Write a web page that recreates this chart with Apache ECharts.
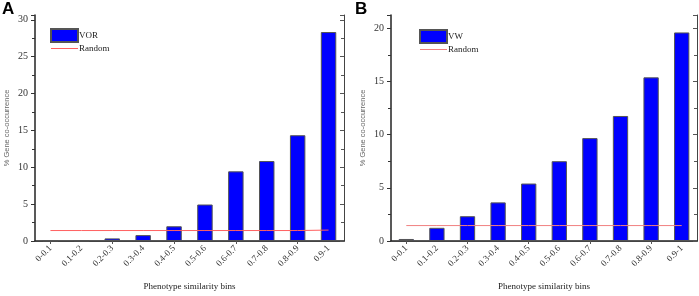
<!DOCTYPE html>
<html><head><meta charset="utf-8">
<script src="https://cdn.jsdelivr.net/npm/echarts@6/dist/echarts.min.js"></script>
<style>html,body{margin:0;padding:0;background:#fff}#c{width:699px;height:296px}</style>
</head><body><div id="c"></div>
<script>
const categories = ['0-0.1','0.1-0.2','0.2-0.3','0.3-0.4','0.4-0.5','0.5-0.6','0.6-0.7','0.7-0.8','0.8-0.9','0.9-1'];
const vorValues = [0.05, 0.05, 0.35, 0.8, 2.0, 4.95, 9.45, 10.85, 14.35, 28.35];
const vorRandom = [1.42, 1.42, 1.42, 1.42, 1.42, 1.42, 1.42, 1.42, 1.42, 1.48];
const vwValues = [0.19, 1.24, 2.33, 3.63, 5.4, 7.5, 9.67, 11.75, 15.38, 19.6];
const vwRandom = [1.45, 1.45, 1.45, 1.45, 1.45, 1.45, 1.45, 1.45, 1.45, 1.45];
const yTicksA = [0, 5, 10, 15, 20, 25, 30];
const yTicksB = [0, 5, 10, 15, 20];
const xTitle = 'Phenotype similarity bins';
const yTitle = '% Gene co-occurrence';

const serif = 'Liberation Serif';
const chart = echarts.init(document.getElementById('c'));
const lineIcon = 'path://M0,0L27,0L27,1L0,1Z';

function xAxes(gi) {
  return [{
    type: 'category', gridIndex: gi, data: categories, position: 'bottom',
    axisLine: {lineStyle: {color: '#222', width: 1.5}},
    axisTick: {show: false},
    axisLabel: {rotate: 45, fontFamily: serif, fontSize: 9, color: '#333', margin: 6, interval: 0},
    name: xTitle, nameLocation: 'middle', nameGap: 41,
    nameTextStyle: {fontFamily: serif, fontSize: 9, color: '#222'}
  }, {
    type: 'category', gridIndex: gi, data: categories, position: 'top',
    axisLine: {lineStyle: {color: '#444', width: 1}},
    axisTick: {show: true, inside: true, alignWithLabel: true, length: 3, lineStyle: {color: '#555'}},
    axisLabel: {show: false}
  }];
}
function yAxes(gi, max, ticks) {
  return [{
    type: 'value', gridIndex: gi, min: 0, max: max, interval: 5, position: 'left',
    axisLine: {show: true, lineStyle: {color: '#222', width: 1.5}},
    axisTick: {show: true, length: 4, lineStyle: {color: '#333'}},
    minorTick: {show: true, splitNumber: 2, length: 3, lineStyle: {color: '#333'}},
    splitLine: {show: false},
    axisLabel: {fontFamily: serif, fontSize: 10, color: '#333', margin: 7,
      formatter: v => ticks.includes(v) ? String(v) : ''},
    name: yTitle, nameLocation: 'middle', nameGap: 24, nameRotate: 90,
    nameTextStyle: {fontFamily: 'Liberation Sans', fontSize: 7.5, color: '#666'}
  }, {
    type: 'value', gridIndex: gi, min: 0, max: max, interval: 5, position: 'right',
    axisLine: {show: true, lineStyle: {color: '#444', width: 1}},
    axisTick: {show: true, inside: true, length: 4, lineStyle: {color: '#555'}},
    minorTick: {show: true, splitNumber: 2, length: 3, lineStyle: {color: '#555'}},
    splitLine: {show: false},
    axisLabel: {show: false}
  }];
}

const option = {
  animation: false,
  backgroundColor: '#fff',
  grid: [
    {left: 35, right: 355, top: 15, bottom: 52},
    {left: 391, right: 2, top: 15, bottom: 53}
  ],
  xAxis: [...xAxes(0), ...xAxes(1)],
  yAxis: [...yAxes(0, 30.66, yTicksA), ...yAxes(1, 21.24, yTicksB)],
  legend: [{
    orient: 'vertical', left: 50, top: 28, padding: 0, itemWidth: 27, itemHeight: 13, itemGap: 1,
    textStyle: {fontFamily: serif, fontSize: 9, color: '#222', padding: [0,0,0,-4]},
    data: [{name: 'VOR', icon: 'rect'}, {name: 'Random A', icon: lineIcon}],
    formatter: n => n.replace(/ [AB]$/, '')
  }, {
    orient: 'vertical', left: 419, top: 29, padding: 0, itemWidth: 27, itemHeight: 13, itemGap: 1,
    textStyle: {fontFamily: serif, fontSize: 9, color: '#222', padding: [0,0,0,-4]},
    data: [{name: 'VW', icon: 'rect'}, {name: 'Random B', icon: lineIcon}],
    formatter: n => n.replace(/ [AB]$/, '')
  }],
  series: [
    {name: 'VOR', type: 'bar', xAxisIndex: 0, yAxisIndex: 0, data: vorValues, barWidth: '50%',
     itemStyle: {color: '#0000ff', borderColor: '#555', borderWidth: 1}},
    {name: 'Random A', type: 'line', xAxisIndex: 0, yAxisIndex: 0, data: vorRandom, symbol: 'none',
     lineStyle: {color: '#ff6060', width: 1}, itemStyle: {color: '#ff6060'}},
    {name: 'VW', type: 'bar', xAxisIndex: 2, yAxisIndex: 2, data: vwValues, barWidth: '50%',
     itemStyle: {color: '#0000ff', borderColor: '#555', borderWidth: 1}},
    {name: 'Random B', type: 'line', xAxisIndex: 2, yAxisIndex: 2, data: vwRandom, symbol: 'none',
     lineStyle: {color: '#f08080', width: 1}, itemStyle: {color: '#f08080'}}
  ],
  graphic: [
    {type: 'text', left: 2, top: 1, style: {text: 'A', font: 'bold 17px Liberation Sans', fill: '#000'}},
    {type: 'text', left: 355, top: 1, style: {text: 'B', font: 'bold 17px Liberation Sans', fill: '#000'}}
  ]
};
chart.setOption(option);
</script></body></html>
